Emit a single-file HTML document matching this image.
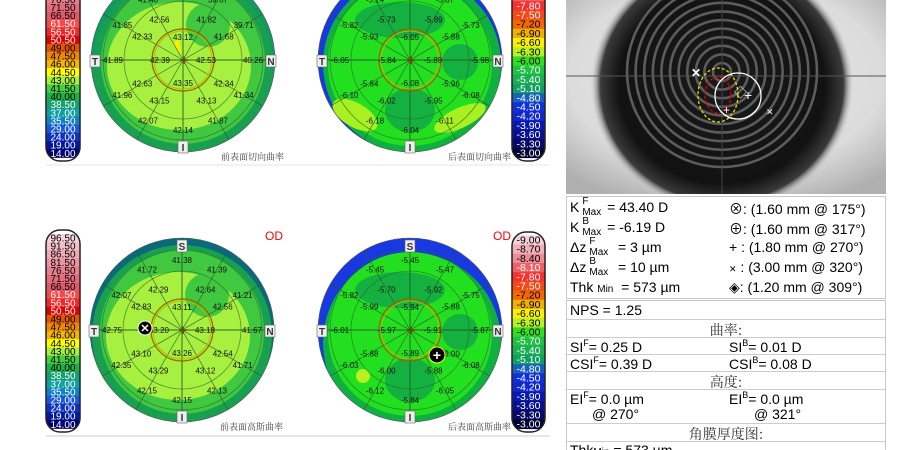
<!DOCTYPE html>
<html><head><meta charset="utf-8">
<style>
html,body{margin:0;padding:0;background:#fff;width:916px;height:450px;overflow:hidden;position:relative;font-family:"Liberation Sans","Noto Sans CJK SC",sans-serif}
#maps{position:absolute;left:0;top:0}
.panel{position:absolute;left:566px;width:320px;border:1px solid #c8c8c8;box-sizing:border-box;font-size:14px;color:#000;background:#fff}
.row{position:absolute;left:3px;white-space:nowrap}
.rc{position:absolute;left:162px;white-space:nowrap}
sup{font-size:9px;vertical-align:6px}
.km{display:inline-block;position:relative;width:20px;height:14px;vertical-align:-3px}
.km i{position:absolute;font-style:normal;font-size:10px;left:3px}
.cn{font-family:"Noto Serif CJK SC","Noto Sans CJK SC",serif;color:#333}
</style></head><body>
<svg id="maps" width="560" height="450" xmlns="http://www.w3.org/2000/svg"></svg>

<svg style="position:absolute;left:566px;top:0" width="320" height="194" xmlns="http://www.w3.org/2000/svg">
<defs>
<radialGradient id="scl" cx="0.5" cy="0.4" r="0.7"><stop offset="0" stop-color="#e4e4e4"/><stop offset="0.7" stop-color="#dcdcdc"/><stop offset="1" stop-color="#b0b0b0"/></radialGradient>
<radialGradient id="iris" cx="0.5" cy="0.5" r="0.5"><stop offset="0" stop-color="#1a1a1a"/><stop offset="0.78" stop-color="#121212"/><stop offset="0.92" stop-color="#3a3a3a"/><stop offset="1" stop-color="#ddd" stop-opacity="0"/></radialGradient>
</defs>
<rect width="320" height="194" fill="url(#scl)"/>
<ellipse cx="156" cy="85" rx="132" ry="127" fill="url(#iris)"/>
<g id="rings" fill="none" stroke="#5c5c5c" stroke-width="2.6"></g>
<line x1="0" y1="76" x2="320" y2="76" stroke="#555" stroke-width="1"/>
<line x1="156" y1="0" x2="156" y2="194" stroke="#444" stroke-width="1"/>
<ellipse cx="152" cy="95" rx="20" ry="27" fill="none" stroke="#e8e000" stroke-width="1.3" stroke-dasharray="3,2"/>
<ellipse cx="152" cy="95" rx="13" ry="18" fill="none" stroke="#e00000" stroke-width="1.3" stroke-dasharray="3,2"/>
<circle cx="172" cy="96" r="23" fill="none" stroke="#fff" stroke-width="1.3"/>
<text x="125" y="77" fill="#fff" font-size="12" font-weight="bold">✕</text>
<text x="168" y="97" fill="#fff" font-size="13">◇</text>
<text x="178" y="100" fill="#fff" font-size="14">+</text>
<text x="157" y="114" fill="#fff" font-size="12">+</text>
<text x="200" y="115" fill="#fff" font-size="9">✕</text>
</svg>

<div class="panel" style="top:196px;height:103px">
<div class="row" style="top:2px">K<span class="km"><i style="top:-5px">F</i><i style="top:6px">Max</i></span>&nbsp; = 43.40 D</div>
<div class="row" style="top:22px">K<span class="km"><i style="top:-5px">B</i><i style="top:6px">Max</i></span>&nbsp; = -6.19 D</div>
<div class="row" style="top:42px">Δz<span class="km"><i style="top:-5px">F</i><i style="top:6px">Max</i></span>&nbsp;&nbsp; = 3 µm</div>
<div class="row" style="top:62px">Δz<span class="km"><i style="top:-5px">B</i><i style="top:6px">Max</i></span>&nbsp;&nbsp; = 10 µm</div>
<div class="row" style="top:82px">Thk <span style="font-size:10px">Min</span>&nbsp; = 573 µm</div>
<div class="rc" style="top:2px">⊗: (1.60 mm @ 175°)</div>
<div class="rc" style="top:22px">⊕: (1.60 mm @ 317°)</div>
<div class="rc" style="top:42px">+ : (1.80 mm @ 270°)</div>
<div class="rc" style="top:62px"><span style="font-size:9px">✕</span> : (3.00 mm @ 320°)</div>
<div class="rc" style="top:82px">◈: (1.20 mm @ 309°)</div>
</div>
<div class="panel" style="top:300px;height:150px;border-bottom:none">
<div class="row" style="top:1px">NPS = 1.25</div>
<div style="position:absolute;left:0;right:0;top:18px;border-top:1px solid #ccc"></div>
<div class="cn" style="position:absolute;left:0;right:0;top:19px;text-align:center">曲率:</div>
<div style="position:absolute;left:0;right:0;top:36px;border-top:1px solid #ccc"></div>
<div class="row" style="top:37px">SI<sup>F</sup>= 0.25 D</div><div class="rc" style="top:37px">SI<sup>B</sup>= 0.01 D</div>
<div style="position:absolute;left:0;right:0;top:53px;border-top:1px solid #ccc"></div>
<div class="row" style="top:54px">CSI<sup>F</sup>= 0.39 D</div><div class="rc" style="top:54px">CSI<sup>B</sup>= 0.08 D</div>
<div style="position:absolute;left:0;right:0;top:70px;border-top:1px solid #ccc"></div>
<div class="cn" style="position:absolute;left:0;right:0;top:71px;text-align:center">高度:</div>
<div style="position:absolute;left:0;right:0;top:88px;border-top:1px solid #ccc"></div>
<div class="row" style="top:89px">EI<sup>F</sup>= 0.0 µm</div><div class="rc" style="top:89px">EI<sup>B</sup>= 0.0 µm</div>
<div class="row" style="top:105px;left:25px">@ 270°</div><div class="rc" style="top:105px;left:187px">@ 321°</div>
<div style="position:absolute;left:0;right:0;top:122px;border-top:1px solid #ccc"></div>
<div class="cn" style="position:absolute;left:0;right:0;top:123px;text-align:center">角膜厚度图:</div>
<div style="position:absolute;left:0;right:0;top:140px;border-top:1px solid #ccc"></div>
<div class="row" style="top:141px">Thk<span style="font-size:10px">Min</span> = 573 µm</div>
</div>

<script>
// ---- data ----
const frontScale = ["96.50","91.50","86.50","81.50","76.50","71.50","66.50","61.50","56.50","50.50","49.00","47.50","46.00","44.50","43.00","41.50","40.00","38.50","37.00","35.50","29.00","24.00","19.00","14.00"];
const backScale = ["-9.00","-8.70","-8.40","-8.10","-7.80","-7.50","-7.20","-6.90","-6.60","-6.30","-6.00","-5.70","-5.40","-5.10","-4.80","-4.50","-4.20","-3.90","-3.60","-3.30","-3.00"];
// inner: top,right,bottom,left ; middle: 30,60,120,150,210,240,300,330 ; outer: 0..330 step 30
const tlInner = ["43.12","42.53","43.35","42.39"];
const tlMiddle = ["41.68","41.82","42.56","42.33","42.63","43.15","43.13","42.34"];
const tlOuter = ["40.26","39.71","39.67","41.46","41.40","41.85","41.89","41.96","42.07","42.14","41.87","41.34"];
const trInner = ["-6.05","-5.89","-6.08","-5.84"];
const trMiddle = ["-5.88","-5.89","-5.73","-5.93","-5.84","-6.02","-5.95","-5.96"];
const trOuter = ["-5.98","-5.73","-5.87","-5.54","-5.24","-5.82","-6.05","-6.10","-6.18","-6.04","-6.11","-6.08"];
const blInner = ["43.11","43.18","43.26","43.20"];
const blMiddle = ["42.56","42.64","42.29","42.83","43.10","43.29","43.12","42.54"];
const blOuter = ["41.67","41.21","41.39","41.38","41.72","42.07","42.75","42.35","42.15","42.15","42.13","41.71"];
const brInner = ["-5.94","-5.91","-5.89","-5.97"];
const brMiddle = ["-5.88","-5.92","-5.70","-5.99","-5.88","-6.00","-5.88","-6.00"];
const brOuter = ["-5.87","-5.75","-5.47","-5.45","-5.45","-5.82","-6.01","-6.03","-6.12","-5.84","-6.05","-6.08"];
const frontColors = ["#f6d6dc","#f2c0c8","#eeaab4","#ea96a2","#e6808e","#e26c7c","#de5a6a","#f84848","#f02828","#e00000","#e05800","#f08800","#f0b800","#ffff00","#a8f040","#44d040","#20b048","#14a070","#10a0a0","#1080c8","#1858d8","#1030c0","#0018a0","#000070"];
const backColors = ["#f6d0d6","#f0b0b8","#ec8c96","#f06060","#f83030","#f84818","#f06800","#f0b000","#f8f000","#b8f020","#30e020","#20c040","#18b050","#10a060","#1860c0","#1030e0","#1028d0","#0818b0","#081090","#080868","#000030"];
const whiteTextFront = [false,false,false,false,false,false,false,true,true,true,false,false,false,false,false,false,false,true,true,true,true,true,true,true];
const whiteTextBack = [false,false,false,true,true,true,false,false,false,false,false,true,true,true,true,true,true,true,true,true,true];

const NS="http://www.w3.org/2000/svg";
const svg=document.getElementById('maps');
function mk(tag,attrs,parent){const e=document.createElementNS(NS,tag);for(const k in attrs)e.setAttribute(k,attrs[k]);(parent||svg).appendChild(e);return e;}

function colorbar(x,w,top,bottom,labels,colors,white,step,first,name,fs){
  const g=mk('g',{});
  
  
  const id='cb'+name;
  const cp=mk('clipPath',{id:id},g);
  mk('rect',{x:x,y:top,width:w,height:bottom-top,rx:14},cp);
  const gg=mk('g',{'clip-path':'url(#'+id+')'},g);
  labels.forEach((l,i)=>{
    const cy=first+i*step;
    mk('rect',{x:x,y:cy-step/2,width:w,height:step+0.5,fill:colors[i]},gg);
    const t=mk('text',{x:x+w/2,y:cy+3.5,'text-anchor':'middle','font-size':fs,fill:white[i]?'#fff':'#000'},gg);
    
    
    t.textContent=l;
  });
  mk('rect',{x:x,y:top,width:w,height:bottom-top,rx:14,fill:'none',stroke:'#222','stroke-width':1.5},g);
}

function pol(cx,cy,r,deg){const a=deg*Math.PI/180;return [cx+r*Math.cos(a),cy-r*Math.sin(a)];}

function map(cx,cy,inner,middle,outer,type,title,name){
  const g=mk('g',{});
  
  
  const id='cl'+name;
  const cp=mk('clipPath',{id:id},g);
  mk('circle',{cx:cx,cy:cy,r:92},cp);
  const z=mk('g',{'clip-path':'url(#'+id+')'},g);
  if(type==='front'){
    mk('circle',{cx:cx,cy:cy,r:92,fill:name.indexOf('bottom')>=0?'#0a6a7a':'#109a60'},z);
    mk('circle',{cx:cx,cy:cy+5,r:90,fill:'#18a050'},z);
    mk('circle',{cx:cx,cy:cy+2,r:82,fill:'#40c840'},z);
    mk('ellipse',{cx:cx-4,cy:cy+6,rx:72,ry:64,fill:'#a8f040'},z);
    mk('ellipse',{cx:cx+25,cy:cy-35,rx:22,ry:22,fill:'#40c840'},z);
    if(name.indexOf('top')>=0) mk('path',{d:`M${cx-4},${cy-22} L${cx-10},${cy-16} L${cx-2},${cy-4} Z`,fill:'#f8f000'},z);
  } else {
    mk('circle',{cx:cx,cy:cy,r:92,fill:'#1838e0'},z);
    mk('circle',{cx:cx+2,cy:cy+(name.indexOf('bottom')>=0?12:4),r:89,fill:'#10b040'},z);
    mk('circle',{cx:cx,cy:cy+4,r:82,fill:'#22e020'},z);
    mk('ellipse',{cx:cx-10,cy:cy-40,rx:45,ry:18,fill:'#14b040'},z);
    mk('ellipse',{cx:cx+50,cy:cy+2,rx:18,ry:18,fill:'#14b040'},z);
    mk('ellipse',{cx:cx,cy:cy+50,rx:25,ry:22,fill:'#14b040'},z);
    if(name.indexOf('top')>=0){
      mk('ellipse',{cx:cx-55,cy:cy+55,rx:25,ry:12,fill:'#a8f020',transform:`rotate(30 ${cx-55} ${cy+55})`},z);
      mk('ellipse',{cx:cx+50,cy:cy+58,rx:28,ry:10,fill:'#a8f020',transform:`rotate(-25 ${cx+50} ${cy+58})`},z);
    } else {
      mk('circle',{cx:cx-47,cy:cy+46,r:7,fill:'#b8f020'},z);
    }
  }
  [59,80].forEach(r=>mk('circle',{cx:cx,cy:cy,r:r,fill:'none',stroke:'#2a6a2a','stroke-width':0.8,opacity:0.7},g));
  for(let a=0;a<180;a+=30){const p=pol(cx,cy,92,a),q=pol(cx,cy,92,a+180);mk('line',{x1:p[0],y1:p[1],x2:q[0],y2:q[1],stroke:'#2a5a2a','stroke-width':a%90===0?1.2:0.8,opacity:0.75},g);}
  mk('circle',{cx:cx,cy:cy,r:31,fill:'none',stroke:'#8a6a00','stroke-width':1.2},g);
  mk('circle',{cx:cx,cy:cy,r:29,fill:'none',stroke:'#c8b000','stroke-width':1},g);
  mk('circle',{cx:cx,cy:cy,r:92,fill:'none',stroke:'#555','stroke-width':0.6},g);
  const tx=(x,y,s)=>{const t=mk('text',{x:x,y:y+3,'text-anchor':'middle','font-size':8,fill:'#111'},g);t.textContent=s;};
  [90,0,270,180].forEach((a,i)=>{const p=pol(cx,cy,23,a);tx(p[0],p[1],inner[i]);});
  [30,60,120,150,210,240,300,330].forEach((a,i)=>{const p=pol(cx,cy,47,a);tx(p[0],p[1],middle[i]);});
  outer.forEach((v,i)=>{const p=pol(cx,cy,70,i*30);tx(p[0],p[1],v);});
  mk('text',{x:cx+1,y:cy+5,'text-anchor':'middle','font-size':15,'font-weight':'bold',fill:'#6a4a00'},g).textContent='+';
  [['S',cx,cy-84],['I',cx,cy+87],['T',cx-88,cy+1],['N',cx+88,cy+1]].forEach(([l,x,y])=>{
    mk('rect',{x:x-5,y:y-6,width:10,height:12,fill:'#eee',stroke:'#666','stroke-width':0.6},g);
    const t=mk('text',{x:x,y:y+4,'text-anchor':'middle','font-size':10,'font-weight':'bold',fill:'#333'},g);
    t.textContent=l;
  });
  const t=mk('text',{x:cx+101,y:cy+100,'text-anchor':'end','font-size':9,fill:'#444','font-family':'"Noto Serif CJK SC","Noto Sans CJK SC",serif'},g);
  t.textContent=title;
  return g;
}

const DY=-271;
colorbar(46,34,230+DY,432+DY,frontScale,frontColors,whiteTextFront,8.1,238+DY,'top-front-scale',10);
colorbar(512,33,232+DY,432+DY,backScale,backColors,whiteTextBack,9.2,240+DY,'top-back-scale',10.5);
colorbar(46,34,230,432,frontScale,frontColors,whiteTextFront,8.1,238,'bottom-front-scale',10);
colorbar(512,33,232,432,backScale,backColors,whiteTextBack,9.2,240,'bottom-back-scale',10.5);
map(183,60,tlInner,tlMiddle,tlOuter,'front','前表面切向曲率','top-front-tangential-map');
map(410,60,trInner,trMiddle,trOuter,'back','后表面切向曲率','top-back-tangential-map');
map(182,330,blInner,blMiddle,blOuter,'front','前表面高斯曲率','bottom-front-sagittal-map');
map(410,330,brInner,brMiddle,brOuter,'back','后表面高斯曲率','bottom-back-sagittal-map');
mk('circle',{cx:145,cy:328,r:7,fill:'#000',stroke:'#fff','stroke-width':1});
mk('text',{x:145,y:332,'text-anchor':'middle','font-size':11,'font-weight':'bold',fill:'#fff'}).textContent='✕';
mk('circle',{cx:437,cy:355,r:8,fill:'#000',stroke:'#ff0','stroke-width':1});
mk('text',{x:437,y:360,'text-anchor':'middle','font-size':14,'font-weight':'bold',fill:'#fff'}).textContent='+';
[[274,240],[502,240]].forEach(([x,y])=>{const t=mk('text',{x:x,y:y,'text-anchor':'middle','font-size':12,fill:'#f00'});t.textContent='OD';});
mk('line',{x1:46,y1:436,x2:550,y2:436,stroke:'#ccc','stroke-width':1});
mk('line',{x1:46,y1:165,x2:550,y2:165,stroke:'#e4e4e4','stroke-width':1});
const rg=document.getElementById('rings');
for(let r=9;r<100;r+=8.6){const c=document.createElementNS(NS,'circle');c.setAttribute('cx',156);c.setAttribute('cy',72);c.setAttribute('r',r);rg.appendChild(c);}
</script>
</body></html>
